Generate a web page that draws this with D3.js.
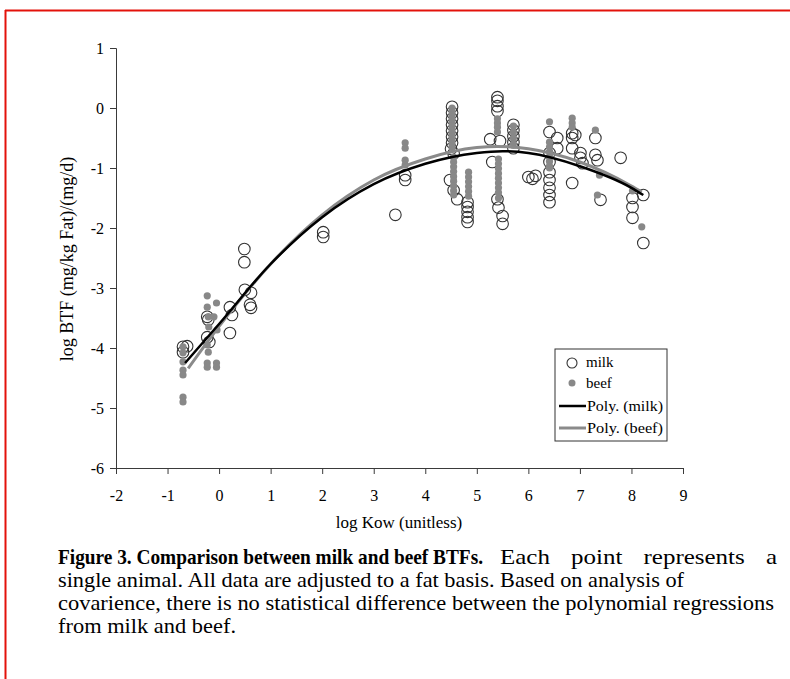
<!DOCTYPE html>
<html>
<head>
<meta charset="utf-8">
<script src="https://cdn.jsdelivr.net/npm/d3@7"></script>
<style>
  body { margin: 0; background: #fff; }
  svg { display: block; }
  text { font-family: "Liberation Serif", "Times New Roman", serif; fill: #000; }
</style>
</head>
<body>
<div id="chart"></div>
<script>
// milk data, [log Kow, log BTF]
const milkPoints = [
  [-0.7, -3.98], [-0.62, -3.97], [-0.7, -4.07],
  [-0.23, -3.48], [-0.21, -3.53], [-0.23, -3.82], [-0.19, -3.9],
  [0.21, -3.32], [0.25, -3.45], [0.21, -3.75],
  [0.49, -2.35], [0.49, -2.57], [0.5, -3.03], [0.62, -3.08], [0.6, -3.28], [0.62, -3.33],
  [2.02, -2.07], [2.02, -2.15],
  [3.42, -1.78], [3.61, -1.12], [3.61, -1.2],
  [4.52, 0.02], [4.52, -0.08], [4.52, -0.18], [4.52, -0.28], [4.52, -0.38],
  [4.52, -0.48], [4.52, -0.58], [4.5, -0.68], [4.55, -0.76],
  [4.48, -1.2], [4.55, -1.37], [4.62, -1.52],
  [4.82, -1.57], [4.82, -1.65], [4.82, -1.73], [4.82, -1.82], [4.82, -1.9],
  [5.4, 0.18], [5.4, 0.12], [5.4, 0.03], [5.4, -0.05],
  [5.26, -0.52], [5.45, -0.55], [5.3, -0.9],
  [5.4, -1.52], [5.42, -1.66], [5.5, -1.8], [5.5, -1.93],
  [5.71, -0.28], [5.71, -0.37], [5.71, -0.47], [5.71, -0.57], [5.71, -0.67],
  [6.0, -1.15], [6.08, -1.18], [6.14, -1.13],
  [6.41, -0.4], [6.41, -0.75], [6.41, -0.9], [6.41, -1.07], [6.41, -1.2],
  [6.41, -1.33], [6.41, -1.45], [6.41, -1.57],
  [6.56, -0.5], [6.56, -0.67],
  [6.85, -0.42], [6.85, -0.5], [6.85, -0.67], [6.85, -1.25], [6.91, -0.45],
  [7.01, -0.75], [7.01, -0.83], [7.05, -0.92],
  [7.3, -0.5], [7.3, -0.78], [7.34, -0.87], [7.4, -1.53],
  [7.79, -0.83],
  [8.02, -1.5], [8.02, -1.65], [8.02, -1.83],
  [8.23, -1.45], [8.23, -2.25]
];

// beef data, [log Kow, log BTF]
const beefPoints = [
  [-0.7, -3.98], [-0.7, -4.08], [-0.7, -4.23], [-0.7, -4.37], [-0.7, -4.45], [-0.7, -4.82], [-0.7, -4.9],
  [-0.23, -3.13], [-0.23, -3.32], [-0.21, -3.48], [-0.2, -3.65], [-0.23, -3.95], [-0.21, -4.07],
  [-0.23, -4.25], [-0.23, -4.32],
  [-0.05, -3.25], [-0.1, -3.48], [-0.04, -3.7], [-0.05, -4.25], [-0.05, -4.32],
  [3.61, -0.58], [3.61, -0.67], [3.61, -0.87], [3.61, -0.95],
  [4.52, 0.0], [4.52, -0.06], [4.52, -0.12], [4.52, -0.18], [4.52, -0.24], [4.52, -0.3],
  [4.52, -0.36], [4.52, -0.42], [4.52, -0.48], [4.52, -0.54], [4.52, -0.6], [4.52, -0.66],
  [4.55, -0.82], [4.55, -0.9], [4.55, -0.98], [4.55, -1.06], [4.55, -1.14], [4.55, -1.22],
  [4.55, -1.3], [4.55, -1.38], [4.55, -1.45],
  [4.84, -1.07], [4.84, -1.15], [4.84, -1.23], [4.84, -1.31], [4.84, -1.39], [4.84, -1.47],
  [5.4, -0.18], [5.4, -0.25], [5.4, -0.32], [5.4, -0.4],
  [5.42, -0.85], [5.42, -0.93], [5.42, -1.01], [5.42, -1.09], [5.42, -1.17],
  [5.42, -1.25], [5.42, -1.33], [5.42, -1.41], [5.42, -1.5],
  [5.71, -0.3], [5.71, -0.4], [5.71, -0.5], [5.71, -0.6],
  [6.41, -0.23], [6.41, -0.57], [6.41, -0.65], [6.41, -0.73], [6.41, -0.81],
  [6.41, -0.89], [6.41, -0.97], [6.41, -1.0],
  [6.85, -0.17], [6.85, -0.25], [6.85, -0.32],
  [7.3, -0.37], [7.38, -1.12], [7.34, -1.45],
  [8.02, -1.38], [8.2, -1.98]
];

// polynomial trend lines
const milkFitKow = [-0.66, 0, 1, 2, 3, 4, 5, 5.5, 6, 7, 8, 8.23];
const milkFitBtf = [-4.25, -3.6, -2.6, -1.82, -1.27, -0.93, -0.75, -0.72, -0.75, -0.97, -1.33, -1.45];
const beefFitKow = [-0.6, 0, 1, 2, 3, 4, 5, 5.4, 6, 7, 8, 8.2];
const beefFitBtf = [-4.34, -3.64, -2.6, -1.78, -1.2, -0.85, -0.66, -0.64, -0.68, -0.9, -1.3, -1.4];

const xTicks = [-2, -1, 0, 1, 2, 3, 4, 5, 6, 7, 8, 9];
const yTicks = [1, 0, -1, -2, -3, -4, -5, -6];

// caption pieces: text, left x, line index, target width, bold?
const captionParts = [
  { text: "Figure 3.  Comparison between milk and beef BTFs.", x: 58, line: 0, len: 425, bold: true },
  { text: "Each point represents a", x: 500, line: 0, len: 277, bold: false },
  { text: "single animal. All data are adjusted to a fat basis. Based on analysis of", x: 58, line: 1, len: 626, bold: false },
  { text: "covarience, there is no statistical difference between the polynomial regressions", x: 58, line: 2, len: 716, bold: false },
  { text: "from milk and beef.", x: 58, line: 3, len: 178, bold: false }
];

const width = 790;
const height = 679;

const svg = d3
  .select("#chart")
  .append("svg")
  .attr("width", width)
  .attr("height", height);

// red frame
svg.append("line")
  .attr("x1", 5.5).attr("x2", 5.5).attr("y1", 10).attr("y2", height)
  .attr("stroke", "#e3120b").attr("stroke-width", 2);
svg.append("line")
  .attr("x1", 5).attr("x2", width).attr("y1", 10.5).attr("y2", 10.5)
  .attr("stroke", "#e3120b").attr("stroke-width", 2);

const x = d3.scaleLinear().domain([-2, 9]).range([116, 683]);
const y = d3.scaleLinear().domain([-6, 1]).range([468, 48]);

const xAxis = svg
  .append("g")
  .attr("transform", `translate(0, ${y(-6)})`)
  .call(d3.axisBottom(x).tickValues(xTicks).tickSize(6).tickPadding(16));

const yAxis = svg
  .append("g")
  .attr("transform", `translate(${x(-2)}, 0)`)
  .call(d3.axisLeft(y).tickValues(yTicks).tickSize(6).tickPadding(6));

[xAxis, yAxis].forEach((a) => {
  a.select(".domain").attr("stroke", "#3a3a3a");
  a.selectAll(".tick line").attr("stroke", "#3a3a3a");
  a.selectAll(".tick text")
    .style("font-family", "Liberation Serif, serif")
    .style("font-size", "16px")
    .attr("fill", "#000")
    .text((d) => String(d)); // plain hyphen, like the original
});

svg.append("text")
  .attr("x", 399)
  .attr("y", 528)
  .attr("text-anchor", "middle")
  .style("font-size", "17px")
  .text("log Kow (unitless)");

svg.append("text")
  .attr("transform", "translate(73, 259) rotate(-90)")
  .attr("text-anchor", "middle")
  .style("font-size", "18px")
  .text("log BTF (mg/kg Fat)/(mg/d)");

// milk circles
svg.append("g")
  .selectAll("circle")
  .data(milkPoints)
  .join("circle")
  .attr("cx", (d) => x(d[0]))
  .attr("cy", (d) => y(d[1]))
  .attr("r", 5.8)
  .attr("fill", "none")
  .attr("stroke", "#333")
  .attr("stroke-width", 1.1);

// beef dots
svg.append("g")
  .selectAll("circle")
  .data(beefPoints)
  .join("circle")
  .attr("cx", (d) => x(d[0]))
  .attr("cy", (d) => y(d[1]))
  .attr("r", 3.6)
  .attr("fill", "#888");

const fitLine = d3.line()
  .x((d) => x(d[0]))
  .y((d) => y(d[1]))
  .curve(d3.curveMonotoneX);

svg.append("path")
  .datum(d3.zip(beefFitKow, beefFitBtf))
  .attr("d", fitLine)
  .attr("fill", "none")
  .attr("stroke", "#8a8a8a")
  .attr("stroke-width", 3);

svg.append("path")
  .datum(d3.zip(milkFitKow, milkFitBtf))
  .attr("d", fitLine)
  .attr("fill", "none")
  .attr("stroke", "#000")
  .attr("stroke-width", 2.5);

// legend
const legend = svg.append("g").attr("transform", "translate(555, 349)");
legend.append("rect")
  .attr("width", 112).attr("height", 92)
  .attr("fill", "#fff").attr("stroke", "#333").attr("stroke-width", 1);

legend.append("circle").attr("cx", 17).attr("cy", 14).attr("r", 5)
  .attr("fill", "none").attr("stroke", "#333").attr("stroke-width", 1.1);
legend.append("circle").attr("cx", 17).attr("cy", 34).attr("r", 3.5).attr("fill", "#888");
legend.append("line").attr("x1", 4).attr("x2", 31).attr("y1", 57).attr("y2", 57)
  .attr("stroke", "#000").attr("stroke-width", 2.5);
legend.append("line").attr("x1", 4).attr("x2", 31).attr("y1", 79).attr("y2", 79)
  .attr("stroke", "#8a8a8a").attr("stroke-width", 3);

const legendLabels = ["milk", "beef", "Poly. (milk)", "Poly. (beef)"];
legend.selectAll("text.lab")
  .data(legendLabels)
  .join("text")
  .attr("class", "lab")
  .attr("x", (d, i) => (i < 2 ? 31 : 32))
  .attr("y", (d, i) => [18, 39, 62, 84][i])
  .attr("textLength", (d, i) => [null, null, 76, 76][i])
  .attr("lengthAdjust", "spacingAndGlyphs")
  .style("font-size", "15px")
  .text((d) => d);

// caption
const captionText = svg.append("g")
  .selectAll("text")
  .data(captionParts)
  .join("text")
  .attr("x", (d) => d.x)
  .attr("y", (d) => 564 + d.line * 23)
  .style("font-family", "'Liberation Serif', serif")
  .style("font-size", (d) => (d.bold ? "21px" : "21.5px"))
  .style("font-weight", (d) => (d.bold ? "bold" : "normal"))
  .text((d) => d.text);

// fit each piece to the width it takes in the original; the tail of
// line one is justified, half its spare room goes into the word gaps
captionText.each(function (d, i) {
  const t = d3.select(this);
  if (i === 1) {
    const gaps = d.text.split(" ").length - 1;
    const spare = d.len - this.getComputedTextLength();
    t.style("word-spacing", `${Math.max(0, spare / gaps / 2)}px`);
  }
  t.attr("textLength", d.len).attr("lengthAdjust", "spacingAndGlyphs");
});
</script>
</body>
</html>
